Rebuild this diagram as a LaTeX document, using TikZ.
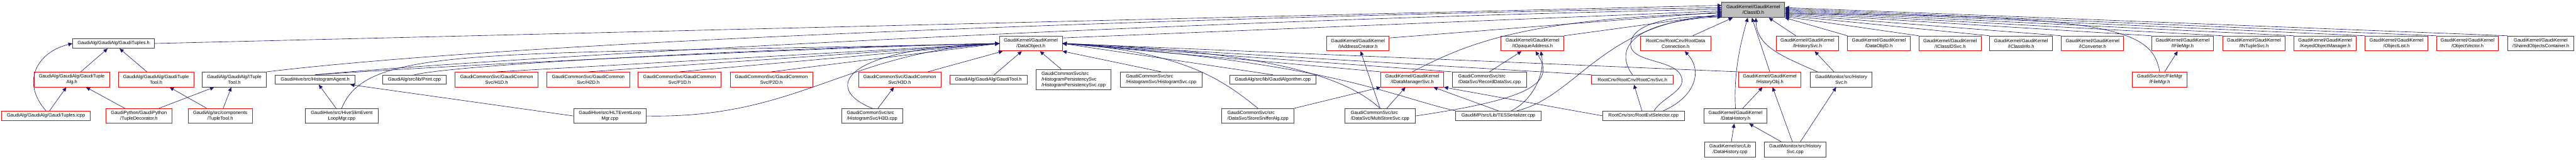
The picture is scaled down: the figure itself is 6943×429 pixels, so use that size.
\documentclass[tikz,border=0pt]{standalone}
\usepackage{fontspec}
\usepackage{tikz}
\usetikzlibrary{arrows.meta}
\newfontfamily\graphfont{Liberation Sans}
\definecolor{edgeblue}{HTML}{191970}
\definecolor{boxline}{HTML}{404040}
\definecolor{boxfill}{HTML}{BFBFBF}
\tikzset{
  gbox/.style={
    draw=boxline,
    line width=0.45pt,
    inner sep=0pt,
    align=center,
    minimum height=4mm,
    font=\graphfont\fontsize{3.62}{4.35}\selectfont
  },
  gred/.style={gbox,draw=red},
  groot/.style={gbox,fill=boxfill},
  gflat/.style={minimum height=2.5mm},
  gedge/.style={-{Triangle[length=1.1mm,width=1mm]},draw=edgeblue,line width=0.3pt}
}
\begin{document}
\begin{tikzpicture}[x=0.01cm,y=0.01cm]
  \path[use as bounding box,fill=white] (0,0) rectangle (6943,-429);
  \node[groot,minimum width=16.9mm,minimum height=4.1mm] (classid) at (4725.5,-26.5) {GaudiKernel/GaudiKernel\\/ClassID.h};
  \node[gbox,minimum width=22mm,minimum height=2.6mm] (tuples) at (306,-117) {GaudiAlg/GaudiAlg/GaudiTuples.h};
  \node[gred,minimum width=16.9mm] (dataobj) at (2778.5,-117) {GaudiKernel/GaudiKernel\\/DataObject.h};
  \node[gred,minimum width=16.8mm] (iaddr) at (3660,-117) {GaudiKernel/GaudiKernel\\/IAddressCreator.h};
  \node[gred,minimum width=16.9mm] (iopaque) at (4130.5,-117) {GaudiKernel/GaudiKernel\\/IOpaqueAddress.h};
  \node[gred,minimum width=19mm] (rootdata) at (4516,-117) {RootCnv/RootCnv/RootData\\Connection.h};
  \node[gred,minimum width=16.9mm] (ihistsvc) at (4871.5,-117) {GaudiKernel/GaudiKernel\\/IHistorySvc.h};
  \node[gred,minimum width=16.8mm] (objid) at (5064,-117) {GaudiKernel/GaudiKernel\\/DataObjID.h};
  \node[gred,minimum width=16.8mm] (iclidsvc) at (5256,-117) {GaudiKernel/GaudiKernel\\/IClassIDSvc.h};
  \node[gbox,minimum width=16.9mm] (iclinfo) at (5447.5,-117) {GaudiKernel/GaudiKernel\\/IClassInfo.h};
  \node[gred,minimum width=16.8mm] (iconv) at (5640,-117) {GaudiKernel/GaudiKernel\\/IConverter.h};
  \node[gred,minimum width=16.7mm] (ifilemgr) at (5882.5,-117) {GaudiKernel/GaudiKernel\\/IFileMgr.h};
  \node[gred,minimum width=16.8mm] (intuple) at (6075,-117) {GaudiKernel/GaudiKernel\\/INTupleSvc.h};
  \node[gred,minimum width=16.8mm] (keyedmgr) at (6267,-117) {GaudiKernel/GaudiKernel\\/KeyedObjectManager.h};
  \node[gred,minimum width=16.8mm] (objlist) at (6459,-117) {GaudiKernel/GaudiKernel\\/ObjectList.h};
  \node[gred,minimum width=16.7mm] (objvec) at (6650.5,-117) {GaudiKernel/GaudiKernel\\/ObjectVector.h};
  \node[gbox,minimum width=17.8mm] (sharedobj) at (6848,-117) {GaudiKernel/GaudiKernel\\/SharedObjectsContainer.h};
  \node[gred,minimum width=20.3mm] (tuplealg) at (193.5,-214) {GaudiAlg/GaudiAlg/GaudiTuple\\Alg.h};
  \node[gred,minimum width=20.3mm] (tupletool) at (420.5,-214) {GaudiAlg/GaudiAlg/GaudiTuple\\Tool.h};
  \node[gbox,minimum width=17.3mm] (ituple) at (631.5,-214) {GaudiAlg/GaudiAlg/ITuple\\Tool.h};
  \node[gbox,gflat,minimum width=21.5mm] (histagent) at (849.5,-214.5) {GaudiHive/src/HistogramAgent.h};
  \node[gbox,gflat,minimum width=17mm] (printcpp) at (1117,-214.5) {GaudiAlg/src/lib/Print.cpp};
  \node[gred,minimum width=22.3mm] (hone) at (1338.5,-214) {GaudiCommonSvc/GaudiCommon\\Svc/H1D.h};
  \node[gred,minimum width=22.3mm] (htwo) at (1585.5,-214) {GaudiCommonSvc/GaudiCommon\\Svc/H2D.h};
  \node[gred,minimum width=22.3mm] (pone) at (1831.5,-214) {GaudiCommonSvc/GaudiCommon\\Svc/P1D.h};
  \node[gred,minimum width=22.2mm] (ptwo) at (2079,-214) {GaudiCommonSvc/GaudiCommon\\Svc/P2D.h};
  \node[gred,minimum width=22.2mm] (hthree) at (2425,-214) {GaudiCommonSvc/GaudiCommon\\Svc/H3D.h};
  \node[gred,gflat,minimum width=20.8mm] (gauditool) at (2664,-214.5) {GaudiAlg/GaudiAlg/GaudiTool.h};
  \node[gbox,align=left,minimum width=20.3mm,minimum height=5.5mm] (histpers) at (2893.5,-214.5) {GaudiCommonSvc/src\\/HistogramPersistencySvc\\/HistogramPersistencySvc.cpp};
  \node[gbox,align=left,minimum width=22.1mm] (histsvccpp) at (3129.5,-214) {GaudiCommonSvc/src\\/HistogramSvc/HistogramSvc.cpp};
  \node[gbox,gflat,minimum width=23.3mm] (galgcpp) at (3430.5,-214.5) {GaudiAlg/src/lib/GaudiAlgorithm.cpp};
  \node[gred,minimum width=16.9mm] (idatamgr) at (3806.5,-214) {GaudiKernel/GaudiKernel\\/IDataManagerSvc.h};
  \node[gbox,align=left,minimum width=19.9mm] (recordsvc) at (4014.5,-214) {GaudiCommonSvc/src\\/DataSvc/RecordDataSvc.cpp};
  \node[gred,gflat,minimum width=22mm] (rootcnvsvc) at (4400,-214.5) {RootCnv/RootCnv/RootCnvSvc.h};
  \node[gred,minimum width=16.8mm] (histobj) at (4770,-214) {GaudiKernel/GaudiKernel\\/HistoryObj.h};
  \node[gbox,minimum width=16.7mm] (histsvch) at (4962.5,-214) {GaudiMonitor/src/History\\Svc.h};
  \node[gred,minimum width=14.8mm] (filemgrh) at (5821,-214) {GaudiSvc/src/FileMgr\\/FileMgr.h};
  \node[gred,gflat,minimum width=23.8mm] (tuplesicpp) at (124,-311.5) {GaudiAlg/GaudiAlg/GaudiTuples.icpp};
  \node[gred,minimum width=17.7mm] (tupledeco) at (374.5,-312) {GaudiPython/GaudiPython\\/TupleDecorator.h};
  \node[gred,minimum width=17.3mm] (tupletoolh) at (593.5,-312) {GaudiAlg/src/components\\/TupleTool.h};
  \node[gbox,minimum width=19.6mm] (hiveslim) at (921,-312) {GaudiHive/src/HiveSlimEvent\\LoopMgr.cpp};
  \node[gbox,minimum width=19.6mm] (hltloop) at (1644,-312) {GaudiHive/src/HLTEventLoop\\Mgr.cpp};
  \node[gbox,align=left,minimum width=16.5mm] (hthreecpp) at (2350.5,-312) {GaudiCommonSvc/src\\/HistogramSvc/H3D.cpp};
  \node[gbox,align=left,minimum width=19.5mm] (sniffer) at (3390.5,-312) {GaudiCommonSvc/src\\/DataSvc/StoreSnifferAlg.cpp};
  \node[gbox,align=left,minimum width=18.9mm] (multistore) at (3719.5,-312) {GaudiCommonSvc/src\\/DataSvc/MultiStoreSvc.cpp};
  \node[gbox,gflat,minimum width=22.9mm] (tesser) at (4038.5,-311.5) {GaudiMP/src/Lib/TESSerializer.cpp};
  \node[gbox,gflat,minimum width=22.1mm] (rootevt) at (4429.5,-311.5) {RootCnv/src/RootEvtSelector.cpp};
  \node[gbox,minimum width=16.9mm] (datahist) at (4677.5,-312) {GaudiKernel/GaudiKernel\\/DataHistory.h};
  \node[gbox,minimum width=13.6mm,minimum height=4.1mm] (datahistcpp) at (4663,-402.5) {GaudiKernel/src/Lib\\/DataHistory.cpp};
  \node[gbox,minimum width=16.7mm,minimum height=4.1mm] (histsvccpp2) at (4838.5,-402.5) {GaudiMonitor/src/History\\Svc.cpp};
  \draw[gedge] (tuples.east) -- (classid.172);
  \draw[gedge] (tuplealg) -- (tuples);
  \draw[gedge] (tupletool) -- (tuples);
  \draw[gedge] (tuplesicpp.north) .. controls (55,-220) and (100,-140) .. (tuples.west);
  \draw[gedge] (tuplesicpp) -- (tuplealg);
  \draw[gedge] (tupledeco) -- (tuplealg);
  \draw[gedge] (tupledeco) -- (ituple);
  \draw[gedge] (tupletoolh) -- (tupletool);
  \draw[gedge] (tupletoolh) -- (ituple);
  \draw[gedge] (ituple.north east) .. controls (1500,-100) and (3500,-40) .. (classid.176);
  \draw[gedge] (histagent.north) .. controls (1400,-150) and (3300,-50) .. (classid.179);
  \draw[gedge] (histagent.north) .. controls (1300,-170) and (2300,-125) .. (dataobj.west);
  \draw[gedge] (hiveslim) -- (histagent);
  \draw[gedge] (hiveslim.north) .. controls (990,-120) and (1300,-150) .. (dataobj.west);
  \draw[gedge] (hltloop.west) -- (histagent);
  \draw[gedge] (hltloop.east) .. controls (2150,-320) and (2280,-140) .. (dataobj.west);
  \draw[gedge] (printcpp.north) .. controls (1250,-170) and (2200,-125) .. (dataobj.west);
  \draw[gedge] (hone.north) -- (dataobj.west);
  \draw[gedge] (htwo.north) -- (dataobj.west);
  \draw[gedge] (pone.north) -- (dataobj.west);
  \draw[gedge] (ptwo.north) -- (dataobj.west);
  \draw[gedge] (hthree) -- (dataobj);
  \draw[gedge] (hthreecpp) -- (hthree);
  \draw[gedge] (hthreecpp.north) .. controls (2220,-240) and (2260,-130) .. (dataobj.west);
  \draw[gedge] (gauditool) -- (dataobj);
  \draw[gedge] (histpers) -- (dataobj);
  \draw[gedge] (histsvccpp.north) -- (dataobj.south east);
  \draw[gedge] (galgcpp.north) -- (dataobj.east);
  \draw[gedge] (sniffer.north) .. controls (3300,-220) and (3200,-140) .. (dataobj.east);
  \draw[gedge] (sniffer.north east) -- (idatamgr.south west);
  \draw[gedge] (multistore.north) .. controls (3650,-230) and (3500,-140) .. (dataobj.east);
  \draw[gedge] (multistore.north) -- (iaddr);
  \draw[gedge] (multistore) -- (idatamgr);
  \draw[gedge] (multistore.east) .. controls (4100,-270) and (4200,-230) .. (iopaque.-69);
  \draw[gedge] (tesser.north west) .. controls (3750,-260) and (3600,-170) .. (dataobj.east);
  \draw[gedge] (tesser.north) -- (idatamgr);
  \draw[gedge] (tesser.21) .. controls (4130,-270) and (4165,-200) .. (iopaque.-43);
  \draw[gedge] (tesser.15) .. controls (4250,-260) and (4320,-60) .. (classid.190);
  \draw[gedge] (idatamgr.north west) -- (dataobj.east);
  \draw[gedge] (idatamgr.north) .. controls (3950,-120) and (4100,-50) .. (classid.186);
  \draw[gedge] (recordsvc.north west) -- (dataobj.east);
  \draw[gedge] (recordsvc.north) -- (iopaque.-145);
  \draw[gedge] (rootcnvsvc.north west) -- (dataobj.east);
  \draw[gedge] (rootcnvsvc.north) .. controls (4355,-140) and (4380,-60) .. (classid.192);
  \draw[gedge] (histobj.north west) -- (dataobj.east);
  \draw[gedge] (dataobj.10) -- (classid.182);
  \draw[gedge] (iaddr.10) -- (classid.184);
  \draw[gedge] (iopaque.north east) -- (classid.188);
  \draw[gedge] (rootevt) -- (rootcnvsvc);
  \draw[gedge] (rootevt.west) -- (idatamgr.south east);
  \draw[gedge] (rootevt.25) .. controls (4480,-260) and (4560,-240) .. (4525,-195)
    .. controls (4495,-160) and (4395,-165) .. (4395,-120)
    .. controls (4395,-60) and (4520,-40) .. (classid.193);
  \draw[gedge] (rootevt.14) .. controls (4570,-260) and (4590,-190) .. (rootdata.-40);
  \draw[gedge] (rootdata) -- (classid.-159);
  \draw[gedge] (datahist.north) .. controls (4672,-200) and (4690,-120) .. (classid.-125);
  \draw[gedge] (histobj.north) -- (classid.-100);
  \draw[gedge] (histsvch.162) .. controls (4800,-150) and (4735,-125) .. (classid.-72);
  \draw[gedge] (ihistsvc) -- (classid.-27);
  \draw[gedge] (objid.north west) -- (classid.south east);
  \draw[gedge] (histsvch) -- (ihistsvc);
  \draw[gedge] (datahist) -- (histobj);
  \draw[gedge] (datahistcpp) -- (datahist);
  \draw[gedge] (histsvccpp2) -- (histobj);
  \draw[gedge] (histsvccpp2) -- (histsvch);
  \draw[gedge] (histsvccpp2) -- (datahist);
  \draw[gedge] (iclidsvc.north west) -- (classid.-12);
  \draw[gedge] (iclinfo.north west) -- (classid.-10);
  \draw[gedge] (iconv.north west) -- (classid.-8);
  \draw[gedge] (filemgrh.north) .. controls (5800,-80) and (5700,-40) .. (classid.-7);
  \draw[gedge] (filemgrh) -- (ifilemgr);
  \draw[gedge] (ifilemgr.north west) -- (classid.-6);
  \draw[gedge] (intuple.north west) -- (classid.-4);
  \draw[gedge] (keyedmgr.north west) -- (classid.-2);
  \draw[gedge] (objlist.north west) -- (classid.east);
  \draw[gedge] (objvec.north west) -- (classid.2);
  \draw[gedge] (sharedobj.north west) -- (classid.4);
\end{tikzpicture}
\end{document}
